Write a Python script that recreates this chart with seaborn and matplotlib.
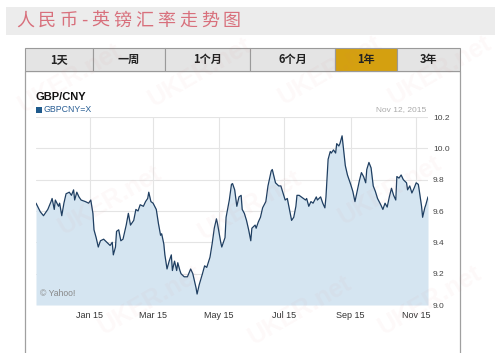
import matplotlib
matplotlib.use("Agg")
import matplotlib.pyplot as plt
import matplotlib.dates as mdates
from matplotlib.patches import Rectangle
import numpy as np
import pandas as pd
import seaborn as sns

# ---- data ----
start_date = "2014-11-12"
day_offsets = [
    0, 4, 7, 11, 14, 15, 17, 18, 21, 22, 24, 26, 28, 31, 33, 35, 36, 38, 40, 42,
    46, 49, 51, 53, 54, 56, 58, 60, 63, 66, 69, 71, 72, 74, 75, 77, 79, 81, 84, 86,
    88, 89, 91, 93, 95, 97, 100, 102, 104, 105, 107, 109, 112, 114, 116, 117, 119, 120, 122, 124,
    126, 127, 129, 131, 132, 134, 135, 138, 141, 144, 146, 149, 150, 152, 155, 157, 159, 162, 164, 166,
    168, 169, 172, 173, 176, 177, 180, 182, 183, 185, 187, 189, 191, 192, 194, 196, 198, 200, 201, 204,
    205, 207, 209, 211, 214, 216, 219, 220, 222, 223, 226, 228, 230, 232, 234, 236, 238, 240, 242, 243,
    245, 247, 251, 252, 254, 256, 258, 261, 262, 265, 267, 269, 270, 272, 274, 275, 277, 279, 280, 282,
    283, 285, 286, 288, 290, 293, 295, 297, 299, 301, 303, 305, 307, 308, 310, 312, 314, 316, 318, 321,
    323, 325, 327, 329, 331, 333, 335, 336, 338, 340, 342, 345, 346, 348, 350, 352, 354, 356, 357, 359,
    360, 362, 363, 365,
]
gbp_cny = [
    9.65, 9.595, 9.57, 9.61, 9.66, 9.68, 9.61, 9.67, 9.63, 9.65, 9.57, 9.65, 9.71, 9.72, 9.70, 9.735, 9.67, 9.72, 9.69, 9.67,
    9.66, 9.65, 9.67, 9.585, 9.48, 9.43, 9.37, 9.41, 9.42, 9.40, 9.38, 9.40, 9.32, 9.37, 9.47, 9.48, 9.41, 9.42, 9.51, 9.585,
    9.51, 9.52, 9.54, 9.61, 9.60, 9.64, 9.63, 9.66, 9.68, 9.72, 9.66, 9.65, 9.61, 9.52, 9.445, 9.455, 9.39, 9.32, 9.23, 9.28,
    9.32, 9.22, 9.28, 9.22, 9.27, 9.22, 9.20, 9.18, 9.18, 9.23, 9.20, 9.11, 9.07, 9.13, 9.20, 9.25, 9.24, 9.305, 9.39, 9.49,
    9.55, 9.52, 9.40, 9.37, 9.43, 9.56, 9.67, 9.77, 9.775, 9.735, 9.63, 9.69, 9.70, 9.61, 9.585, 9.54, 9.48, 9.41, 9.49, 9.51,
    9.49, 9.53, 9.56, 9.62, 9.66, 9.76, 9.855, 9.865, 9.81, 9.78, 9.76, 9.76, 9.715, 9.67, 9.68, 9.61, 9.54, 9.56, 9.63, 9.70,
    9.70, 9.69, 9.67, 9.68, 9.63, 9.66, 9.65, 9.69, 9.67, 9.69, 9.65, 9.62, 9.69, 9.93, 9.98, 9.97, 9.99, 9.97, 10.03, 10.015,
    10.03, 10.08, 10.015, 9.89, 9.83, 9.77, 9.725, 9.66, 9.725, 9.79, 9.845, 9.82, 9.78, 9.865, 9.91, 9.875, 9.76, 9.725, 9.68, 9.64,
    9.61, 9.65, 9.625, 9.69, 9.745, 9.70, 9.67, 9.82, 9.81, 9.83, 9.80, 9.78, 9.735, 9.76, 9.715, 9.745, 9.78, 9.77, 9.725, 9.63,
    9.56, 9.62, 9.64, 9.69,
]
y_ticks = [9.0, 9.2, 9.4, 9.6, 9.8, 10.0, 10.2]
x_tick_dates = ["2015-01-01", "2015-03-01", "2015-05-01", "2015-07-01", "2015-09-01", "2015-11-01"]
x_minor_dates = ["2014-12-01", "2015-02-01", "2015-04-01", "2015-06-01", "2015-08-01", "2015-10-01"]
tab_labels = ["1天", "一周", "1个月", "6个月", "1年", "3年"]
active_tab = "1年"
page_title = "人民币-英镑汇率走势图"
chart_title = "GBP/CNY"
series_name = "GBPCNY=X"
as_of = "Nov 12, 2015"

df = pd.DataFrame({
    "date": pd.Timestamp(start_date) + pd.to_timedelta(day_offsets, unit="D"),
    "rate": gbp_cny,
})

W, H = 500, 353
LINE = "#1f3f62"
FILL = "#d5e5f1"


def fx(px):
    return px / W


def fy(py):
    return 1 - py / H


sns.set_theme(style="white")
plt.rcParams["font.family"] = ["Liberation Sans", "Noto Sans CJK SC", "DejaVu Sans"]

fig = plt.figure(figsize=(W / 100, H / 100), dpi=100)
fig.patch.set_facecolor("white")

# title band
fig.patches.append(Rectangle((fx(6), fy(35)), fx(489), 28 / H, transform=fig.transFigure,
                             facecolor="#ececec", edgecolor="none", zorder=0))
cx = 25
for i, ch in enumerate(page_title):
    fig.text(fx(cx), fy(21), ch, ha="center", va="center", fontsize=13, color="#d8707c",
             family=["Noto Sans CJK SC", "DejaVu Sans"])
    nxt = page_title[i + 1] if i + 1 < len(page_title) else ""
    cx += 15.5 if (ch == "-" or nxt == "-") else 22

# chart frame below the tabs
fig.patches.append(Rectangle((fx(25), fy(360)), fx(435), 289 / H, transform=fig.transFigure,
                             facecolor="white", edgecolor="#a0a0a0", lw=0.9, zorder=0))

# tabs
tab_edges = [25, 93, 165, 250, 335, 397, 460]
for lab, x0, x1 in zip(tab_labels, tab_edges[:-1], tab_edges[1:]):
    fc = "#d4a010" if lab == active_tab else "#e4e4e4"
    fig.patches.append(Rectangle((fx(x0), fy(71)), fx(x1 - x0), 23.5 / H, transform=fig.transFigure,
                                 facecolor=fc, edgecolor="#9a9a9a", lw=0.8, zorder=1))
    fig.text(fx((x0 + x1) / 2), fy(59.5), lab, ha="center", va="center", fontsize=8,
             fontweight="bold", color="#222222", family=["Noto Sans CJK SC", "DejaVu Sans"])

# headers
fig.text(fx(36), fy(97), chart_title, ha="left", va="center", fontsize=8, fontweight="bold", color="#111111")
fig.patches.append(Rectangle((fx(36), fy(113)), fx(6), 6 / H, transform=fig.transFigure,
                             facecolor="#1f5a8c", edgecolor="none"))
fig.text(fx(44), fy(109.5), series_name, ha="left", va="center", fontsize=6.3, color="#2a5f95")
fig.text(fx(426), fy(109.5), as_of, ha="right", va="center", fontsize=6, color="#aaaaaa")

# plot
ax = fig.add_axes([fx(36), fy(305), fx(392), 188 / H])
ax.set_zorder(5)
ax.set_facecolor("white")
ax.fill_between(df["date"], df["rate"], 9.0, color=FILL, lw=0, zorder=1)
sns.lineplot(data=df, x="date", y="rate", ax=ax, color=LINE, lw=0.9, zorder=3)

ax.set_xlim(pd.Timestamp(start_date), pd.Timestamp(start_date) + pd.Timedelta(days=365))
ax.set_ylim(9.0, 10.2)
ax.set_yticks(y_ticks)
ax.set_yticklabels([f"{v:.1f}" for v in y_ticks])
ax.yaxis.tick_right()
ax.set_xticks(pd.to_datetime(x_tick_dates))
ax.set_xticks(pd.to_datetime(x_minor_dates), minor=True)
ax.xaxis.set_major_formatter(mdates.DateFormatter("%b %y"))
ax.tick_params(axis="y", length=0, pad=3.5, labelsize=6, labelcolor="#444444")
ax.tick_params(axis="x", which="major", length=0, pad=4.5, labelsize=6.5, labelcolor="#333333")
ax.tick_params(axis="x", which="minor", length=3, width=0.6, color="#dddddd", direction="in")
ax.grid(True, which="major", color="#e4e4e4", lw=0.8, zorder=0)
ax.set_axisbelow(True)
ax.set_xlabel("")
ax.set_ylabel("")
for sp in ax.spines.values():
    sp.set_visible(False)

ax.text(0.01, 0.035, "© Yahoo!", transform=ax.transAxes, ha="left", va="bottom",
        fontsize=6.2, color="#888888", zorder=4)

# faint site watermarks
for wx, wy in [(70, 78), (200, 72), (330, 70), (440, 70), (110, 200), (250, 205),
               (390, 190), (150, 300), (300, 310), (430, 300)]:
    fig.text(fx(wx), fy(wy), "UKER.net", ha="center", va="center", fontsize=18,
             fontweight="bold", color="#e07070", alpha=0.045, rotation=30, zorder=10)

fig.savefig("out.png", dpi=100)
plt.close(fig)
